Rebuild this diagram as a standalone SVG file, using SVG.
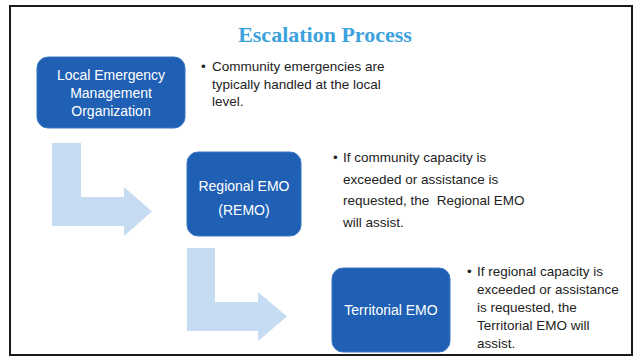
<svg xmlns="http://www.w3.org/2000/svg" width="639" height="360" viewBox="0 0 639 360">
  <defs>
    <style>
      .frame { fill: #ffffff; stroke: #1a1a1a; stroke-width: 2; }
      .title { font-family: "Liberation Serif", serif; font-weight: bold; font-size: 22px; fill: #3da2dc; }
      .box { fill: #1f5fb4; stroke: #3a78c4; stroke-width: 1; }
      .boxtext { font-family: "Liberation Sans", Arial, sans-serif; font-size: 14px; fill: #ffffff; text-anchor: middle; }
      .note { font-family: "Liberation Sans", Arial, sans-serif; font-size: 13.5px; fill: #222222; white-space: pre; }
      .flow { fill: #c5dcf2; }
    </style>
  </defs>

  <rect class="frame" x="10" y="6" width="622" height="349"/>

  <text class="title" x="325" y="42" text-anchor="middle">Escalation Process</text>

  <!-- bent arrows between levels -->
  <g id="connectors">
    <path class="flow" d="M52,143 H81 V197 H124 V187 L152,211.5 L124,236 V226 H52 Z"/>
    <path class="flow" d="M187,248 H215 V302 H258 V292 L287,316.5 L258,341 V331 H187 Z"/>
  </g>

  <g id="local-emo">
    <rect class="box" x="37" y="57" width="148" height="71" rx="11"/>
    <text class="boxtext" x="111" y="80">Local Emergency</text>
    <text class="boxtext" x="111" y="98">Management</text>
    <text class="boxtext" x="111" y="116">Organization</text>
  </g>

  <g id="local-note">
    <text class="note" x="201" y="71">•</text>
    <text class="note" x="212" y="71">Community emergencies are</text>
    <text class="note" x="212" y="88.5">typically handled at the local</text>
    <text class="note" x="212" y="106">level.</text>
  </g>

  <g id="regional-emo">
    <rect class="box" x="187" y="152" width="114" height="84" rx="11"/>
    <text class="boxtext" x="244" y="191">Regional EMO</text>
    <text class="boxtext" x="244" y="215">(REMO)</text>
  </g>

  <g id="regional-note">
    <text class="note" x="333" y="162">•</text>
    <text class="note" x="343" y="162">If community capacity is</text>
    <text class="note" x="343" y="183.5">exceeded or assistance is</text>
    <text class="note" x="343" y="205" xml:space="preserve">requested, the  Regional EMO</text>
    <text class="note" x="343" y="226.5">will assist.</text>
  </g>

  <g id="territorial-emo">
    <rect class="box" x="332" y="268" width="118" height="84" rx="11"/>
    <text class="boxtext" x="391" y="315">Territorial EMO</text>
  </g>

  <g id="territorial-note">
    <text class="note" x="467" y="276">•</text>
    <text class="note" x="477" y="276">If regional capacity is</text>
    <text class="note" x="477" y="294">exceeded or assistance</text>
    <text class="note" x="477" y="312">is requested, the</text>
    <text class="note" x="477" y="330">Territorial EMO will</text>
    <text class="note" x="477" y="348">assist.</text>
  </g>
</svg>
